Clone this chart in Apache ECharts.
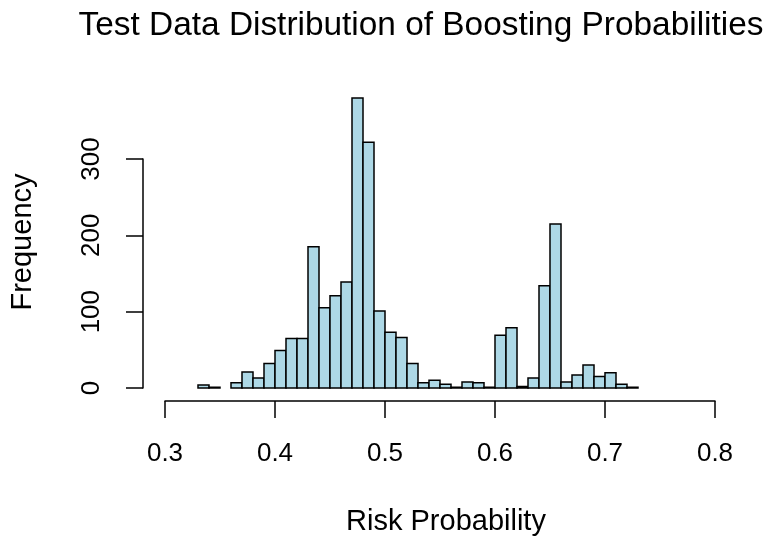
<!DOCTYPE html>
<html>
<head>
<meta charset="utf-8">
<script src="https://cdn.jsdelivr.net/npm/echarts@6/dist/echarts.min.js"></script>
<style>
  html, body { margin: 0; padding: 0; background: #fff; }
  #main { width: 775px; height: 537px; }
</style>
</head>
<body>
<div id="main"></div>
<script>
// 直方图数据（每格 0.01）
const binLow = [0.33, 0.34, 0.35, 0.36, 0.37, 0.38, 0.39, 0.40, 0.41, 0.42,
  0.43, 0.44, 0.45, 0.46, 0.47, 0.48, 0.49, 0.50, 0.51, 0.52,
  0.53, 0.54, 0.55, 0.56, 0.57, 0.58, 0.59, 0.60, 0.61, 0.62,
  0.63, 0.64, 0.65, 0.66, 0.67, 0.68, 0.69, 0.70, 0.71, 0.72];
const binHigh = [0.34, 0.35, 0.36, 0.37, 0.38, 0.39, 0.40, 0.41, 0.42, 0.43,
  0.44, 0.45, 0.46, 0.47, 0.48, 0.49, 0.50, 0.51, 0.52, 0.53,
  0.54, 0.55, 0.56, 0.57, 0.58, 0.59, 0.60, 0.61, 0.62, 0.63,
  0.64, 0.65, 0.66, 0.67, 0.68, 0.69, 0.70, 0.71, 0.72, 0.73];
const counts = [4, 1, 0, 7, 21, 13, 32, 49, 65, 65,
  185, 105, 121, 139, 380, 322, 101, 73, 66, 32,
  7, 10, 5, 1, 8, 7, 1, 69, 79, 2,
  13, 134, 215, 8, 17, 30, 15, 20, 5, 1];
const xTicks = [0.3, 0.4, 0.5, 0.6, 0.7, 0.8];
const yTicks = [0, 100, 200, 300];

const FONT = '"Liberation Sans", Arial, Helvetica, sans-serif';

const chart = echarts.init(document.getElementById('main'));
const option = {
  backgroundColor: '#fff',
  animation: false,
  title: {
    text: 'Test Data Distribution of Boosting Probabilities',
    left: 416,
    top: 4,
    textAlign: 'center',
    textStyle: { fontFamily: FONT, fontSize: 33.4, fontWeight: 'normal', color: '#000' }
  },
  graphic: [
    {
      type: 'text', x: 446, y: 522,
      style: { text: 'Risk Probability', font: '29px ' + FONT, fill: '#000', align: 'center', verticalAlign: 'middle' }
    },
    {
      type: 'text', x: 23, y: 242, rotation: Math.PI / 2,
      style: { text: 'Frequency', font: '29px ' + FONT, fill: '#000', align: 'center', verticalAlign: 'middle' }
    }
  ],
  grid: { left: 165, right: 60, top: 159, bottom: 149 },
  xAxis: {
    type: 'value',
    min: xTicks[0],
    max: xTicks[xTicks.length - 1],
    interval: 0.1,
    offset: 13,
    splitLine: { show: false },
    axisLine: { show: true, onZero: false, lineStyle: { color: '#000', width: 1.5 } },
    axisTick: { show: true, length: 17, lineStyle: { color: '#000', width: 1.5 } },
    axisLabel: {
      margin: 40, color: '#000', fontFamily: FONT, fontSize: 26,
      formatter: v => v.toFixed(1)
    }
  },
  yAxis: {
    type: 'value',
    min: yTicks[0],
    max: yTicks[yTicks.length - 1],
    interval: 100,
    offset: 22,
    splitLine: { show: false },
    axisLine: { show: true, onZero: false, lineStyle: { color: '#000', width: 1.5 } },
    axisTick: { show: true, length: 17, lineStyle: { color: '#000', width: 1.5 } },
    axisLabel: { margin: 38, rotate: 90, color: '#000', fontFamily: FONT, fontSize: 26 }
  },
  series: [{
    type: 'custom',
    clip: false,
    data: counts.map((c, i) => [binLow[i], binHigh[i], c]),
    renderItem: function (params, api) {
      const c = api.value(2);
      if (c <= 0) return null;
      const p0 = api.coord([api.value(0), c]);
      const p1 = api.coord([api.value(1), 0]);
      return {
        type: 'rect',
        shape: { x: p0[0], y: p0[1], width: p1[0] - p0[0], height: p1[1] - p0[1] },
        style: { fill: '#ADD8E6', stroke: '#000', lineWidth: 1.5 }
      };
    }
  }]
};
chart.setOption(option);
</script>
</body>
</html>
